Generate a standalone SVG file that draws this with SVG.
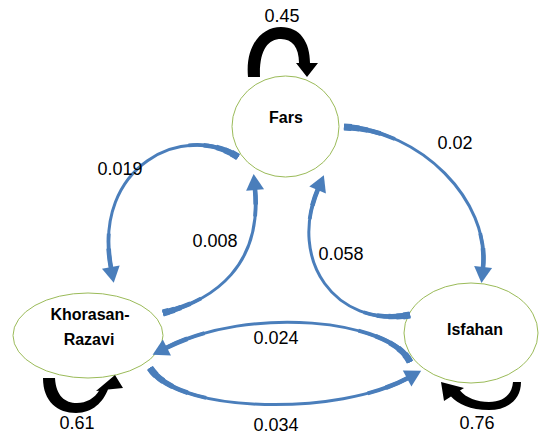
<svg xmlns="http://www.w3.org/2000/svg" width="539" height="435" viewBox="0 0 539 435">
<style>
.node{fill:#fff;stroke:#9bbb59;stroke-width:1}
.name{font-family:"Liberation Sans",Arial,sans-serif;font-weight:bold;font-size:16px;fill:#000;text-anchor:middle}
.lbl{font-family:"Liberation Sans",Arial,sans-serif;font-size:18px;fill:#000;text-anchor:middle}
.b0,.b1,.b2,.b3,.b4,.b5{fill:none;stroke:#4a7ebb}
.b0{stroke-width:3}
.b1{stroke-width:3.8;stroke-dasharray:24 60 16}
.b2{stroke-width:4.6;stroke-dasharray:17 74 9}
.b3{stroke-width:5.4;stroke-dasharray:11 100}
.b4{stroke-width:6.2;stroke-dasharray:7 100}
.b5{stroke-width:7;stroke-dasharray:3.5 100}
.loop{fill:#000}
</style>
<defs>
<marker id="ah" markerUnits="userSpaceOnUse" markerWidth="20" markerHeight="22" viewBox="0 -11 17 22" refX="1" refY="0" orient="auto">
<path d="M0,-9 L16,0 L0,9 Z" fill="#4a7ebb"/>
</marker>
<path id="p1" pathLength="100" d="M238,157 C185,122 92,165 111,268"/>
<path id="p2" pathLength="100" d="M163,313 C215,300 262,265 255,189"/>
<path id="p3" pathLength="100" d="M344,127 C420,130 490,200 483,268"/>
<path id="p4" pathLength="100" d="M410,315 C335,328 288,260 318,189"/>
<path id="p5" pathLength="100" d="M410,362 C390,320 250,305 166,348"/>
<path id="p6" pathLength="100" d="M150,368 C180,415 340,415 408,378"/>
</defs>
<g id="fars">
<ellipse class="node" cx="285.5" cy="126.5" rx="53.5" ry="50.5"/>
<text class="name" x="286" y="123">Fars</text>
</g>
<g id="khorasan">
<ellipse class="node" cx="88" cy="335.5" rx="75" ry="42.5"/>
<text class="name" x="90" y="320">Khorasan-</text>
<text class="name" x="89" y="345">Razavi</text>
</g>
<g id="isfahan">
<ellipse class="node" cx="471" cy="333" rx="67" ry="50"/>
<text class="name" x="475" y="335">Isfahan</text>
</g>
<g id="connectors">
<path class="loop" d="M248,77 C245,45 262,27 281,27 C300,27 310,42 310,63 L318,63 L307,77 L296,63 L299,63 C299,47 292,39 281,39 C268,39 259,50 260,77 Z"/>
<path class="loop" d="M43,378 C43,402 58,413 76,413 C93,413 103,402 108,389.6 L123,388 L115,375 L96,391 L99,390.7 C95,398 86,403 77,403 C65,403 56,396 55,378 Z"/>
<path class="loop" d="M521,382 C521,401 506,410 489,410 C470,410 458,404 451,396.5 L444,401 L441,382 L464,388 L460,390.6 C466,398 477,402 489,402 C503,402 512,395 513,382 Z"/>

<g id="e-fars-khorasan">
<use href="#p1" class="b0" marker-end="url(#ah)"/><use href="#p1" class="b1"/><use href="#p1" class="b2"/><use href="#p1" class="b3"/><use href="#p1" class="b4"/><use href="#p1" class="b5"/>
</g>
<g id="e-khorasan-fars">
<use href="#p2" class="b0" marker-end="url(#ah)"/><use href="#p2" class="b1"/><use href="#p2" class="b2"/><use href="#p2" class="b3"/><use href="#p2" class="b4"/><use href="#p2" class="b5"/>
</g>
<g id="e-fars-isfahan">
<use href="#p3" class="b0" marker-end="url(#ah)"/><use href="#p3" class="b1"/><use href="#p3" class="b2"/><use href="#p3" class="b3"/><use href="#p3" class="b4"/><use href="#p3" class="b5"/>
</g>
<g id="e-isfahan-fars">
<use href="#p4" class="b0" marker-end="url(#ah)"/><use href="#p4" class="b1"/><use href="#p4" class="b2"/><use href="#p4" class="b3"/><use href="#p4" class="b4"/><use href="#p4" class="b5"/>
</g>
<g id="e-isfahan-khorasan">
<use href="#p5" class="b0" marker-end="url(#ah)"/><use href="#p5" class="b1"/><use href="#p5" class="b2"/><use href="#p5" class="b3"/><use href="#p5" class="b4"/><use href="#p5" class="b5"/>
</g>
<g id="e-khorasan-isfahan">
<use href="#p6" class="b0" marker-end="url(#ah)"/><use href="#p6" class="b1"/><use href="#p6" class="b2"/><use href="#p6" class="b3"/><use href="#p6" class="b4"/><use href="#p6" class="b5"/>
</g>

<text class="lbl" x="282" y="22">0.45</text>
<text class="lbl" x="120" y="175">0.019</text>
<text class="lbl" x="215" y="247">0.008</text>
<text class="lbl" x="455" y="149">0.02</text>
<text class="lbl" x="341" y="260">0.058</text>
<text class="lbl" x="276" y="344">0.024</text>
<text class="lbl" x="276" y="431">0.034</text>
<text class="lbl" x="77" y="429">0.61</text>
<text class="lbl" x="477" y="429">0.76</text>
</g>
</svg>
